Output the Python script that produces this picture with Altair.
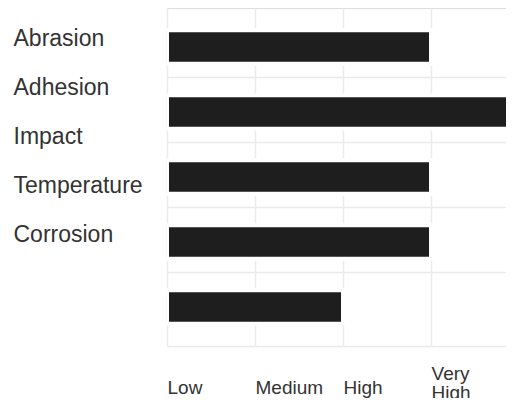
import altair as alt
import pandas as pd

# data
categories = ["Abrasion", "Adhesion", "Impact", "Temperature", "Corrosion"]
ratings = [3, 4, 3, 3, 2]
level_labels = ["Low", "Medium", "High", "Very High"]
level_values = [0, 1, 2, 3]

df = pd.DataFrame({"category": categories, "rating": ratings})

FONT = "Liberation Sans"
TEXT = "#333333"
GRID = "#ebebeb"

label_list = ",".join(
    "[" + ",".join("'" + w + "'" for w in lab.split(" ")) + "]" for lab in level_labels
)
label_expr = f"[{label_list}][datum.value]"
multi_line_test = " || ".join(
    f"datum.value === {v}" for v, lab in zip(level_values, level_labels) if " " in lab
)

bars = alt.Chart(df).mark_bar(
    color="#1e1e1e", stroke="white", strokeWidth=4, clip=True, size=33.5
).encode(
    x=alt.X(
        "rating:Q",
        scale=alt.Scale(domain=[0, 3.852], nice=False, zero=True),
        axis=alt.Axis(
            values=level_values,
            labelExpr=label_expr,
            title=None,
            grid=True,
            gridColor=GRID,
            gridWidth=1.5,
            domain=True,
            domainColor=GRID,
            domainWidth=1.5,
            ticks=False,
            tickSize=0,
            labelAlign="left",
            labelBaseline="middle",
            labelPadding={
                "condition": {"test": multi_line_test, "value": 27},
                "value": 41,
            },
            labelFont=FONT,
            labelFontSize=19,
            labelColor=TEXT,
            labelLineHeight=19,
        ),
    ),
    y=alt.Y(
        "category:N",
        sort=categories,
        scale=alt.Scale(paddingInner=0.0646, paddingOuter=0.132),
        axis=alt.Axis(
            orient="left",
            labels=False,
            ticks=False,
            tickSize=0,
            domain=False,
            title=None,
            grid=True,
            gridColor=GRID,
            gridWidth=1.5,
            gridOpacity={
                "condition": {
                    "test": f"datum.value === '{categories[-1]}'",
                    "value": 0,
                },
                "value": 1,
            },
            bandPosition=1,
            tickExtra=False,
        ),
    ),
)

names = alt.Chart(df).mark_text(opacity=0).encode(
    text="category:N",
    x=alt.value(0),
    y=alt.Y(
        "category:N",
        sort=categories,
        scale=alt.Scale(type="point", range=[30.5, 226.5], padding=0),
        axis=alt.Axis(
            orient="left",
            title=None,
            ticks=False,
            tickSize=0,
            domain=False,
            grid=False,
            labelAlign="left",
            labelBaseline="middle",
            labelPadding=154,
            labelFont=FONT,
            labelFontSize=23,
            labelColor=TEXT,
            labelLimit=300,
        ),
    ),
)

chart = (
    alt.layer(bars, names)
    .resolve_scale(y="independent")
    .properties(
        width=339,
        height=338,
        autosize=alt.AutoSizeParams(type="none"),
        padding={"left": 159, "top": 0, "right": 0, "bottom": 52},
    )
    .configure_view(stroke=GRID, strokeWidth=1.5)
    .configure(background="white")
)

chart.save("out.html", embed_options={"renderer": "svg", "actions": False})
